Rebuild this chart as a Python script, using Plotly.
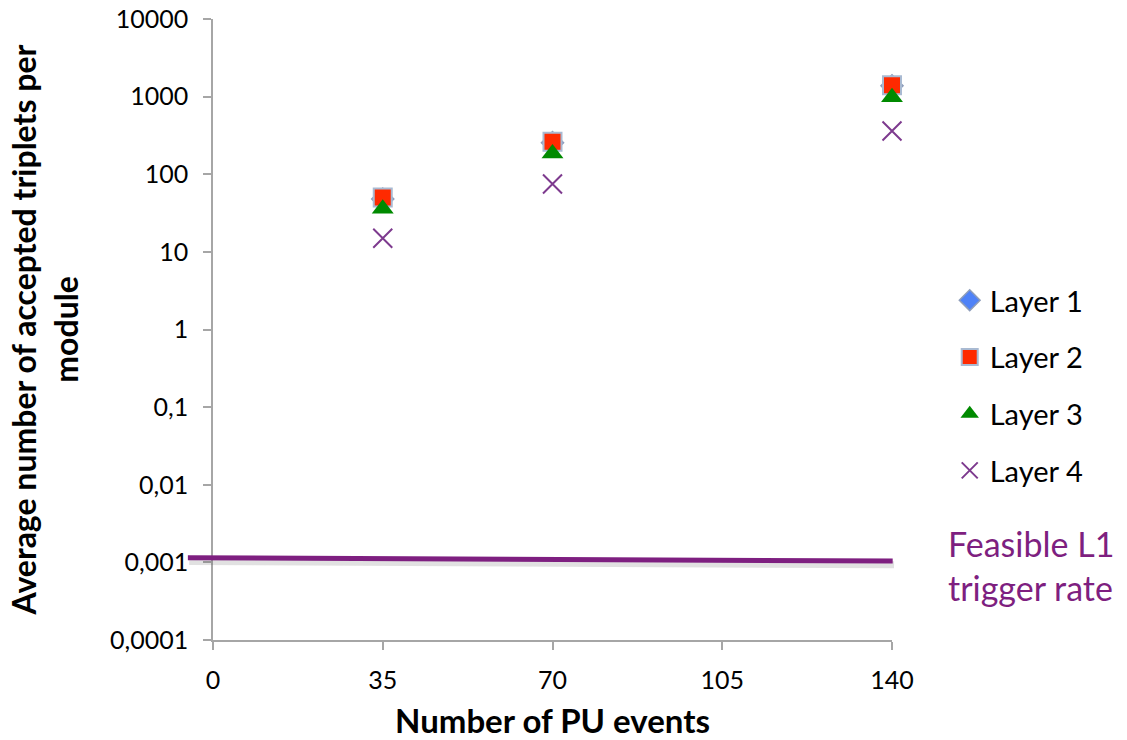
import plotly.graph_objects as go

# Pile-up scenarios (number of PU events)
pu_events = [35, 70, 140]

# Average number of accepted triplets per module, per layer
layer1 = [48, 255, 1380]
layer2 = [50, 262, 1400]
layer3 = [36, 185, 980]
layer4 = [15, 75, 360]

# Feasible L1 trigger rate reference level
l1_rate = 0.001

x_ticks = [0, 35, 70, 105, 140]
y_tickvals = [1e4, 1e3, 1e2, 1e1, 1, 0.1, 0.01, 0.001, 0.0001]
y_ticktext = ["10000", "1000", "100", "10", "1", "0,1", "0,01", "0,001", "0,0001"]

FONT = "Lato, 'Open Sans', sans-serif"
PURPLE = "#7E1F80"

fig = go.Figure()

fig.add_trace(go.Scatter(
    x=pu_events, y=layer1, mode="markers", name="Layer 1",
    legendgroup="l1", cliponaxis=False,
    marker=dict(symbol="diamond", size=17, color="#4F82F7",
                line=dict(color="#8E9DBA", width=1.5)),
))
fig.add_trace(go.Scatter(
    x=pu_events, y=layer2, mode="markers", name="Layer 2",
    legendgroup="l2", cliponaxis=False,
    marker=dict(symbol="square", size=18, color="#FF2A00",
                line=dict(color="#A9BAD2", width=2)),
))
fig.add_trace(go.Scatter(
    x=pu_events, y=layer3, mode="markers", name="Layer 3",
    legendgroup="l3", cliponaxis=False,
    marker=dict(symbol="triangle-up", size=19, color="#008A00",
                line=dict(color="#008A00", width=0)),
))
fig.add_trace(go.Scatter(
    x=pu_events, y=layer4, mode="markers", name="Layer 4",
    legendgroup="l4", cliponaxis=False,
    marker=dict(symbol="x-thin", size=19, color="#7D3A8E",
                line=dict(color="#7D3A8E", width=2)),
))

# Trigger-rate line with a soft drop shadow underneath
shadow_shift = 1.12
fig.add_shape(type="line", xref="paper", yref="y",
              x0=-0.035, x1=1.003,
              y0=l1_rate * 1.15 / shadow_shift, y1=l1_rate * 1.04 / shadow_shift,
              line=dict(color="rgba(90,90,90,0.18)", width=7), layer="above")
fig.add_shape(type="line", xref="paper", yref="y",
              x0=-0.037, x1=1.001,
              y0=l1_rate * 1.15, y1=l1_rate * 1.04,
              line=dict(color=PURPLE, width=5), layer="above")

fig.add_annotation(
    xref="paper", yref="y", x=1.08, y=-3.04,
    text="Feasible L1<br>trigger rate", showarrow=False,
    xanchor="left", yanchor="middle", align="left",
    font=dict(family=FONT, size=34, color=PURPLE),
)

axis_common = dict(
    showline=True, linecolor="#A6A6A6", linewidth=1.5,
    ticks="outside", ticklen=8, tickcolor="#A6A6A6", tickwidth=1.5,
    showgrid=False, zeroline=False, automargin=False,
    tickfont=dict(family=FONT, size=25, color="#000000"),
)

fig.update_xaxes(
    range=[0, 140], tickvals=x_ticks, ticklabelstandoff=9,
    title=dict(text="<b>Number of PU events</b>", standoff=26,
               font=dict(family=FONT, size=33, color="#000000")),
    **axis_common,
)
fig.update_yaxes(
    type="log", range=[-4, 4], tickvals=y_tickvals, ticktext=y_ticktext,
    ticklabelstandoff=10,
    title=dict(text="<b>Average number of accepted triplets per<br>module</b>",
               standoff=22,
               font=dict(family=FONT, size=32, color="#000000")),
    **axis_common,
)

fig.update_layout(
    width=1127, height=740,
    margin=dict(l=213, r=235, t=19, b=100),
    paper_bgcolor="white", plot_bgcolor="white",
    showlegend=True,
    legend=dict(
        x=1.085, y=0.41, xanchor="left", yanchor="middle",
        traceorder="grouped", tracegroupgap=16, itemwidth=30,
        font=dict(family=FONT, size=29, color="#000000"),
        bgcolor="rgba(0,0,0,0)",
    ),
)

fig.write_html("out.html")
